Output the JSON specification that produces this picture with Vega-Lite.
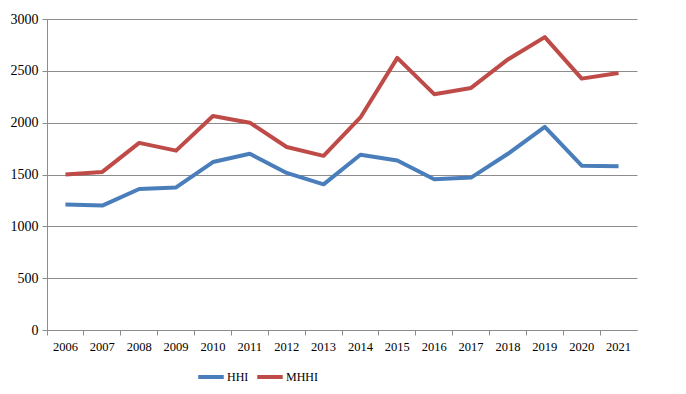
{
  "$schema": "https://vega.github.io/schema/vega-lite/v6.json",
  "width": 590,
  "height": 311,
  "autosize": "none",
  "padding": {"left": 47, "top": 19, "right": 49, "bottom": 64},
  "background": "white",
  "config": {"view": {"stroke": null}, "font": "Liberation Serif"},
  "data": {"values": [
    {"year": "2006", "series": "HHI", "value": 1210},
    {"year": "2007", "series": "HHI", "value": 1200},
    {"year": "2008", "series": "HHI", "value": 1360},
    {"year": "2009", "series": "HHI", "value": 1375},
    {"year": "2010", "series": "HHI", "value": 1620},
    {"year": "2011", "series": "HHI", "value": 1700},
    {"year": "2012", "series": "HHI", "value": 1515},
    {"year": "2013", "series": "HHI", "value": 1405},
    {"year": "2014", "series": "HHI", "value": 1690},
    {"year": "2015", "series": "HHI", "value": 1635},
    {"year": "2016", "series": "HHI", "value": 1455},
    {"year": "2017", "series": "HHI", "value": 1470},
    {"year": "2018", "series": "HHI", "value": 1700},
    {"year": "2019", "series": "HHI", "value": 1960},
    {"year": "2020", "series": "HHI", "value": 1585},
    {"year": "2021", "series": "HHI", "value": 1580},
    {"year": "2006", "series": "MHHI", "value": 1500},
    {"year": "2007", "series": "MHHI", "value": 1525},
    {"year": "2008", "series": "MHHI", "value": 1805},
    {"year": "2009", "series": "MHHI", "value": 1730},
    {"year": "2010", "series": "MHHI", "value": 2065},
    {"year": "2011", "series": "MHHI", "value": 2000},
    {"year": "2012", "series": "MHHI", "value": 1765},
    {"year": "2013", "series": "MHHI", "value": 1680},
    {"year": "2014", "series": "MHHI", "value": 2050},
    {"year": "2015", "series": "MHHI", "value": 2625},
    {"year": "2016", "series": "MHHI", "value": 2275},
    {"year": "2017", "series": "MHHI", "value": 2335},
    {"year": "2018", "series": "MHHI", "value": 2610},
    {"year": "2019", "series": "MHHI", "value": 2825},
    {"year": "2020", "series": "MHHI", "value": 2425},
    {"year": "2021", "series": "MHHI", "value": 2480}
  ]},
  "resolve": {"axis": {"x": "independent"}},
  "layer": [
    {
      "mark": {"type": "line", "strokeWidth": 4, "strokeJoin": "round", "strokeCap": "butt"},
      "encoding": {
        "x": {
          "field": "year", "type": "ordinal", "bandPosition": 0.5,
          "scale": {"type": "band", "paddingInner": 0, "paddingOuter": 0},
          "axis": {"title": null, "orient": "bottom", "labelAngle": 0, "ticks": false, "domain": false, "grid": false,
                   "labelFont": "Liberation Serif", "labelFontSize": 12.5, "labelColor": "#000", "labelPadding": 10}
        },
        "y": {
          "field": "value", "type": "quantitative",
          "scale": {"domain": [0, 3000], "nice": false},
          "axis": {"title": null, "values": [0, 500, 1000, 1500, 2000, 2500, 3000], "format": "d",
                   "grid": true, "gridColor": "#8c8c8c", "gridWidth": 1,
                   "domainColor": "#8c8c8c", "tickColor": "#8c8c8c", "tickSize": 5,
                   "labelFont": "Liberation Serif", "labelFontSize": 14, "labelColor": "#000", "labelPadding": 4}
        },
        "color": {
          "field": "series", "type": "nominal",
          "scale": {"domain": ["HHI", "MHHI"], "range": ["#4a7ebb", "#be4b48"]},
          "legend": {"title": null, "orient": "none", "direction": "horizontal", "legendX": 149, "legendY": 343,
                     "symbolType": "M-1,0H1", "symbolSize": 650, "symbolStrokeWidth": 4,
                     "labelFont": "Liberation Serif", "labelFontSize": 12, "labelColor": "#000",
                     "columnPadding": 0, "labelOffset": 1}
        }
      }
    },
    {
      "mark": {"type": "line", "opacity": 0},
      "encoding": {
        "x": {
          "field": "year", "type": "ordinal",
          "axis": {"title": null, "orient": "bottom", "labels": false, "bandPosition": 0, "ticks": true, "tickSize": 5,
                   "tickColor": "#8c8c8c", "domainColor": "#8c8c8c", "grid": false}
        },
        "y": {"field": "value", "type": "quantitative"},
        "detail": {"field": "series"}
      }
    }
  ]
}
